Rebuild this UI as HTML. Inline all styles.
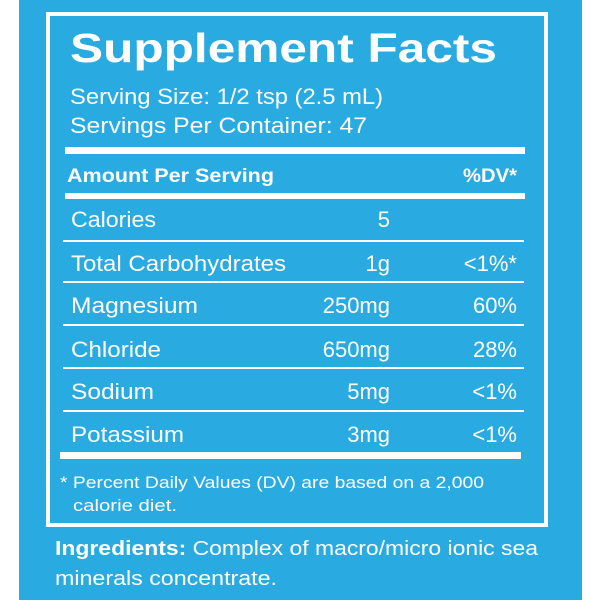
<!DOCTYPE html>
<html><head><style>
html,body{margin:0;padding:0;background:#fff;width:600px;height:600px;overflow:hidden}
text{font-family:"Liberation Sans",sans-serif;fill:#fff}
</style></head><body>
<svg width="600" height="600" viewBox="0 0 600 600" xmlns="http://www.w3.org/2000/svg">
<rect x="19" y="0" width="563" height="600" fill="#29abe2"/>
<rect x="48" y="14" width="498" height="511" fill="none" stroke="#fff" stroke-width="4"/>
<text x="70" y="62" font-size="41" font-weight="bold" textLength="427" lengthAdjust="spacingAndGlyphs">Supplement Facts</text>
<text x="70" y="104" font-size="22" textLength="313" lengthAdjust="spacingAndGlyphs">Serving Size: 1/2 tsp (2.5 mL)</text>
<text x="70" y="133" font-size="22" textLength="297" lengthAdjust="spacingAndGlyphs">Servings Per Container: 47</text>
<rect x="65" y="147" width="460" height="7" fill="#fff"/>
<text x="67" y="182" font-size="19" font-weight="bold" textLength="207" lengthAdjust="spacingAndGlyphs">Amount Per Serving</text>
<text x="463" y="182" font-size="19" font-weight="bold" textLength="54" lengthAdjust="spacingAndGlyphs">%DV*</text>
<rect x="65" y="193" width="460" height="6" fill="#fff"/>
<g fill="#fff">
<rect x="63" y="240" width="461" height="2"/>
<rect x="63" y="281" width="461" height="2"/>
<rect x="63" y="324" width="461" height="2"/>
<rect x="63" y="367" width="461" height="2"/>
<rect x="63" y="410" width="461" height="2"/>
</g>
<rect x="60" y="452" width="461" height="7" fill="#fff"/>
<g font-size="22">
<text x="71" y="227" textLength="85" lengthAdjust="spacingAndGlyphs">Calories</text>
<text x="71" y="271" textLength="215" lengthAdjust="spacingAndGlyphs">Total Carbohydrates</text>
<text x="71" y="313" textLength="127" lengthAdjust="spacingAndGlyphs">Magnesium</text>
<text x="71" y="357" textLength="90" lengthAdjust="spacingAndGlyphs">Chloride</text>
<text x="71" y="399" textLength="83" lengthAdjust="spacingAndGlyphs">Sodium</text>
<text x="71" y="442" textLength="113" lengthAdjust="spacingAndGlyphs">Potassium</text>
<text x="390" y="227" text-anchor="end">5</text>
<text x="390" y="271" text-anchor="end">1g</text>
<text x="390" y="313" text-anchor="end">250mg</text>
<text x="390" y="357" text-anchor="end">650mg</text>
<text x="390" y="399" text-anchor="end">5mg</text>
<text x="390" y="442" text-anchor="end">3mg</text>
<text x="517" y="271" text-anchor="end">&lt;1%*</text>
<text x="517" y="313" text-anchor="end">60%</text>
<text x="517" y="357" text-anchor="end">28%</text>
<text x="517" y="399" text-anchor="end">&lt;1%</text>
<text x="517" y="442" text-anchor="end">&lt;1%</text>
</g>
<text x="60" y="488" font-size="17" textLength="424" lengthAdjust="spacingAndGlyphs">* Percent Daily Values (DV) are based on a 2,000</text>
<text x="73" y="511" font-size="17" textLength="104" lengthAdjust="spacingAndGlyphs">calorie diet.</text>
<text x="55" y="555" font-size="20" textLength="483" lengthAdjust="spacingAndGlyphs"><tspan font-weight="bold">Ingredients:</tspan> Complex of macro/micro ionic sea</text>
<text x="55" y="585" font-size="20" textLength="222" lengthAdjust="spacingAndGlyphs">minerals concentrate.</text>
</svg>
</body></html>
